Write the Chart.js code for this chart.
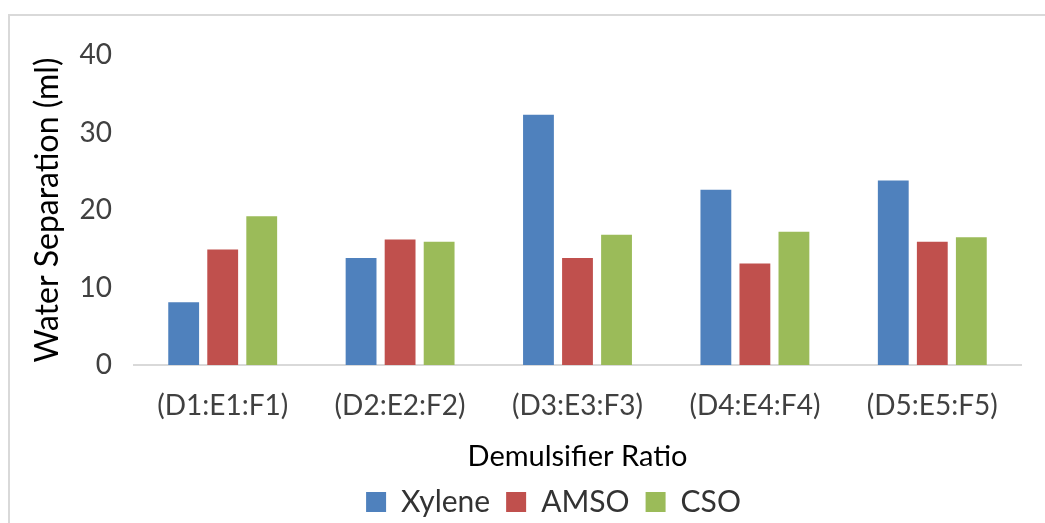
<!DOCTYPE html>
<html>
<head>
<meta charset="utf-8">
<script src="https://cdn.jsdelivr.net/npm/chart.js@4"></script>
<style>
  html, body { margin: 0; padding: 0; background: #ffffff; overflow: hidden; }
  #frame { position: absolute; left: 8px; top: 14px; width: 1100px; height: 600px; border: 2px solid #d9d9d9; }
  #wrap { position: absolute; left: 0; top: 0; width: 1045px; height: 523px; }
</style>
</head>
<body>
<div id="frame"></div>
<div id="wrap"><canvas id="chart" width="1045" height="523"></canvas></div>
<script>
const categories = ['(D1:E1:F1)', '(D2:E2:F2)', '(D3:E3:F3)', '(D4:E4:F4)', '(D5:E5:F5)'];
const xylene = [8.1, 13.8, 32.3, 22.6, 23.8];
const amso = [14.9, 16.2, 13.8, 13.1, 15.9];
const cso = [19.2, 15.9, 16.8, 17.2, 16.5];
const yTicks = [0, 10, 20, 30, 40];

const FONT = "Lato, 'Open Sans', sans-serif";

// Nudge the legend row to the right so it sits under the plot rather than the whole canvas.
const legendShift = {
  id: 'legendShift',
  afterLayout(chart) {
    const lg = chart.legend;
    if (lg) { lg.left += 43; lg.right += 43; }
  }
};

new Chart(document.getElementById('chart'), {
  type: 'bar',
  data: {
    labels: categories,
    datasets: [
      { label: 'Xylene', data: xylene, backgroundColor: '#4f81bd' },
      { label: 'AMSO', data: amso, backgroundColor: '#c0504d' },
      { label: 'CSO', data: cso, backgroundColor: '#9bbb59' }
    ]
  },
  options: {
    responsive: false,
    animation: false,
    devicePixelRatio: 1,
    datasets: { bar: { categoryPercentage: 0.66, barPercentage: 0.79 } },
    layout: { padding: { left: 0, right: 24, top: 55, bottom: 0 } },
    plugins: {
      tooltip: { enabled: false },
      legend: {
        position: 'bottom',
        maxHeight: 52,
        labels: {
          font: { family: FONT, size: 30 },
          color: '#333333',
          boxWidth: 20,
          boxHeight: 20,
          padding: 16
        }
      }
    },
    scales: {
      x: {
        afterFit: (axis) => { axis.height = 106; },
        grid: { display: false, drawTicks: false },
        border: { color: '#d9d9d9', width: 2 },
        ticks: { font: { family: FONT, size: 28 }, color: '#404040', padding: 24 },
        title: { display: true, text: 'Demulsifier Ratio', font: { family: FONT, size: 29 }, color: '#000000', padding: { top: 0, bottom: -3 } }
      },
      y: {
        min: 0,
        max: 40,
        afterBuildTicks: (axis) => { axis.ticks = yTicks.map(v => ({ value: v })); },
        afterFit: (axis) => { axis.width = 134; },
        grid: { display: false, drawTicks: false },
        border: { display: false },
        ticks: { font: { family: FONT, size: 28 }, color: '#404040', padding: 22 },
        title: { display: true, text: 'Water Separation (ml)', font: { family: FONT, size: 32 }, color: '#000000', padding: { top: 28, bottom: 0 } }
      }
    }
  },
  plugins: [legendShift]
});
</script>
</body>
</html>
